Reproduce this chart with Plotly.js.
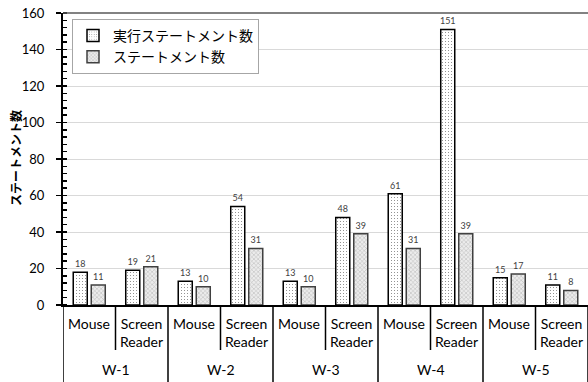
<!DOCTYPE html>
<html>
<head>
<meta charset="utf-8">
<script src="https://cdn.plot.ly/plotly-3.0.1.min.js"></script>
<style>html,body{margin:0;padding:0;background:#fff;}#chart{width:588px;height:382px;}</style>
</head>
<body>
<div id="chart"></div>
<script>
const groups = ['W-1', 'W-2', 'W-3', 'W-4', 'W-5'];
const devices = ['Mouse', 'Screen<br>Reader'];
const seriesNames = ['実行ステートメント数', 'ステートメント数'];
const yTitle = 'ステートメント数';
const executed = [18, 19, 13, 54, 13, 48, 61, 151, 15, 11];
const statements = [11, 21, 10, 31, 10, 39, 31, 39, 17, 8];
const yTicks = [0, 20, 40, 60, 80, 100, 120, 140, 160];

const FONT = "Lato, 'Noto Sans CJK JP', sans-serif";
const JFONT = "'Noto Sans CJK JP', sans-serif";
const plotH = 292;
const plotW = 525;

// category list built from groups x devices
const cats = [];
groups.forEach(g => devices.forEach(d => cats.push({g: g, d: d})));
const xs = cats.map((c, i) => i);

const traces = [
  {
    type: 'bar', name: seriesNames[0], x: xs, y: executed,
    text: executed.map(String), textposition: 'outside', constraintext: 'none', cliponaxis: false,
    textfont: {size: 9, color: '#404040', family: FONT},
    marker: {color: '#ffffff', line: {color: '#000000', width: 1.5},
      pattern: {shape: '.', fgcolor: '#404040', bgcolor: '#ffffff', size: 3, solidity: 0.08}},
    hoverinfo: 'skip'
  },
  {
    type: 'bar', name: seriesNames[1], x: xs, y: statements,
    text: statements.map(String), textposition: 'outside', constraintext: 'none', cliponaxis: false,
    textfont: {size: 9, color: '#404040', family: FONT},
    marker: {color: '#e0e0e0', line: {color: '#404040', width: 1.5},
      pattern: {shape: 'x', fgcolor: '#b4b4b4', bgcolor: '#ececec', size: 3, solidity: 0.3}},
    hoverinfo: 'skip'
  }
];

const annotations = [];
const shapes = [];
// inner labels
cats.forEach((c, i) => {
  annotations.push({xref: 'x', yref: 'paper', x: i, y: -8 / plotH, yanchor: 'top', xanchor: 'center',
    text: c.d, showarrow: false, font: {family: FONT, size: 14, color: '#000'}});
});
// outer labels
groups.forEach((g, gi) => {
  const center = gi * devices.length + (devices.length - 1) / 2;
  annotations.push({xref: 'x', yref: 'paper', x: center, y: -65 / plotH, yanchor: 'middle', xanchor: 'center',
    text: g, showarrow: false, font: {family: FONT, size: 14, color: '#000'}});
});
// y axis title
annotations.push({xref: 'paper', yref: 'paper', x: -(63 - 15) / plotW, y: (305 - 158) / plotH,
  xanchor: 'center', yanchor: 'middle', textangle: -90, showarrow: false, text: '<b>' + yTitle + '</b>',
  font: {family: JFONT, size: 12, color: '#000'}});
// dividers
for (let b = 0; b <= cats.length; b++) {
  const isOuter = b % devices.length === 0;
  shapes.push({type: 'line', xref: 'x', yref: 'paper', x0: b - 0.5, x1: b - 0.5, y0: 0,
    y1: isOuter ? -77 / plotH : -45 / plotH, line: {color: '#000', width: 1.5}});
}
// top border
shapes.push({type: 'line', xref: 'paper', yref: 'paper', x0: 0, x1: 1, y0: 1, y1: 1,
  line: {color: '#595959', width: 1.5}});

const layout = {
  width: 588, height: 382,
  margin: {l: 63, r: 0, t: 13, b: 77, pad: 0},
  paper_bgcolor: '#fff', plot_bgcolor: '#fff',
  barmode: 'group', bargap: 0.314, bargroupgap: 0.222,
  font: {family: FONT, color: '#000'},
  showlegend: true,
  legend: {x: 9 / plotW, y: (305 - 19) / plotH, xanchor: 'left', yanchor: 'top',
    bgcolor: '#fff', bordercolor: '#a6a6a6', borderwidth: 1,
    font: {family: JFONT, size: 14, color: '#000'}, itemwidth: 30, tracegroupgap: 4},
  xaxis: {range: [-0.5, cats.length - 0.5], showticklabels: false, ticks: '', showgrid: false,
    zeroline: false, showline: true, linecolor: '#000', linewidth: 2, fixedrange: true},
  yaxis: {range: [0, 160], tickvals: yTicks, ticks: 'outside', ticklen: 5, tickwidth: 1.5, tickcolor: '#000',
    showline: true, linecolor: '#000', linewidth: 2, showgrid: true, gridcolor: '#d9d9d9', gridwidth: 1,
    zeroline: false, tickfont: {family: FONT, size: 13, color: '#000'}, ticklabelstandoff: 9,
    minor: {dtick: 4, tick0: 0, ticks: 'inside', ticklen: 4, tickwidth: 1.5, tickcolor: '#000', showgrid: false}},
  annotations: annotations,
  shapes: shapes
};

Plotly.newPlot('chart', traces, layout, {staticPlot: true, displayModeBar: false});
</script>
</body>
</html>
